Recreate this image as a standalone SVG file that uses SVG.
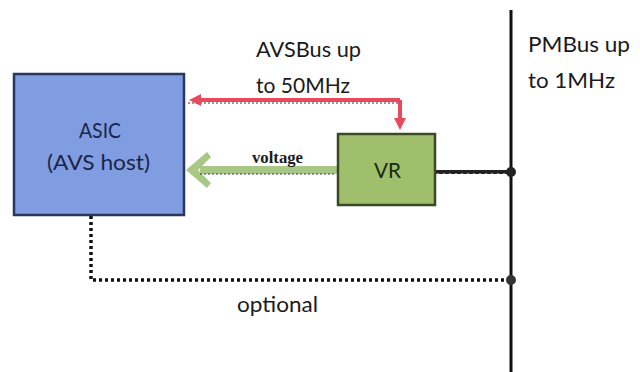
<svg xmlns="http://www.w3.org/2000/svg" width="640" height="372" viewBox="0 0 640 372">
<defs>
<style>
.t{font-family:Lato,"Open Sans","Liberation Sans",sans-serif;font-size:22px;fill:#1a1a1a}
.s{font-family:"Liberation Serif",serif;font-size:17px;fill:#1a1a1a;font-weight:bold}
.box{stroke-width:2.5}
</style>
<marker id="ar" markerWidth="12" markerHeight="12" refX="8" refY="6" orient="auto" markerUnits="userSpaceOnUse"><path d="M0,0 L12,6 L0,12 z" fill="#e84a5c"/></marker>
</defs>
<rect width="640" height="372" fill="#fff"/>
<g id="connectors">
<line x1="511" y1="10" x2="511" y2="372" stroke="#111" stroke-width="3"/>
<line x1="435" y1="172" x2="511" y2="172" stroke="#222" stroke-width="4"/>
<line x1="437" y1="174" x2="509" y2="174" stroke="#fff" stroke-width="1.2" stroke-dasharray="2 4"/>
<circle cx="511" cy="172" r="5" fill="#222"/>
<polyline points="91,216 91,280 511,280" fill="none" stroke="#111" stroke-width="3.5" stroke-dasharray="3 3"/>
<circle cx="511" cy="280" r="5" fill="#333"/>
<line x1="188" y1="103" x2="398" y2="103" stroke="#333" stroke-width="1" stroke-dasharray="2 2"/>
<polyline points="400,100 193,100" fill="none" stroke="#e84a5c" stroke-width="4" marker-end="url(#ar)"/>
<polyline points="400,100 400,126" fill="none" stroke="#e84a5c" stroke-width="4" marker-end="url(#ar)"/>
<line x1="338" y1="170" x2="200" y2="170" stroke="#a9c886" stroke-width="8"/>
<path d="M186,170 L207,152 L211,157 L198,170 L211,183 L207,188 Z" fill="#a9c886"/>
<line x1="200" y1="174" x2="336" y2="174" stroke="#333" stroke-width="1" stroke-dasharray="2 2"/>
<text x="252" y="163" class="s" textLength="51" lengthAdjust="spacingAndGlyphs">voltage</text>
</g>
<g id="asic">
<rect x="14" y="74" width="170" height="141" fill="#7f9de0" stroke="#2a3560" class="box"/>
<text x="79" y="138" class="t" style="fill:#1c2548" textLength="42" lengthAdjust="spacingAndGlyphs">ASIC</text>
<text x="47" y="170" class="t" style="fill:#1c2548" textLength="103" lengthAdjust="spacingAndGlyphs">(AVS host)</text>
</g>
<g id="vr">
<rect x="338" y="134" width="97" height="71" fill="#9fbf6c" stroke="#3a4a25" class="box"/>
<text x="374" y="178" class="t" style="fill:#1a2a12" textLength="27" lengthAdjust="spacingAndGlyphs">VR</text>
</g>
<g id="labels">
<text x="256" y="57" class="t" textLength="105" lengthAdjust="spacingAndGlyphs">AVSBus up</text>
<text x="256" y="93" class="t" textLength="94" lengthAdjust="spacingAndGlyphs">to 50MHz</text>
<text x="528" y="52" class="t" textLength="102" lengthAdjust="spacingAndGlyphs">PMBus up</text>
<text x="528" y="88" class="t" textLength="87" lengthAdjust="spacingAndGlyphs">to 1MHz</text>
<text x="237" y="312" class="t" textLength="81" lengthAdjust="spacingAndGlyphs">optional</text>
</g>
</svg>
